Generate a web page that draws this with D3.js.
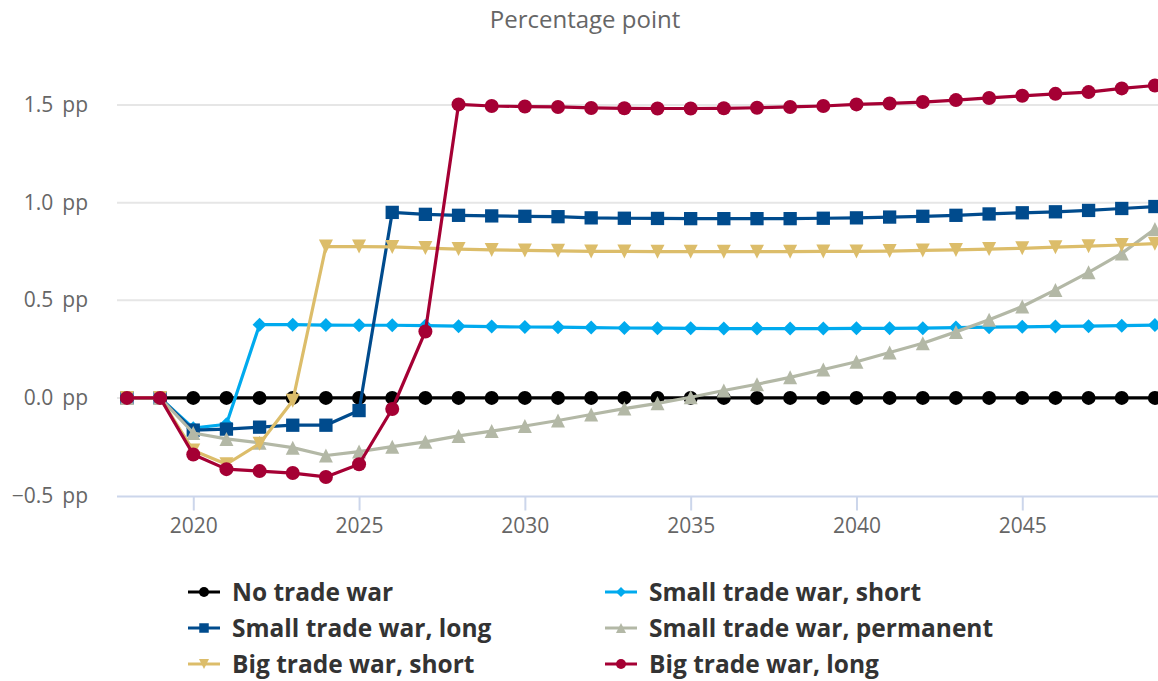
<!doctype html>
<html>
<head>
<meta charset="utf-8">
<script src="https://cdn.jsdelivr.net/npm/d3@7"></script>
<style>
  body{ margin:0; background:#fff; }
  text{ font-family:"Open Sans", sans-serif; }
  .grid line{ stroke:#e6e6e6; stroke-width:2px; }
  .ylab{ fill:#666; font-size:21px; }
  .xaxis path, .xaxis line{ stroke:#ccd6eb; stroke-width:2px; }
  .xaxis text{ fill:#666; font-size:21px; }
  .legend text{ fill:#333; font-size:24.5px; font-weight:700; }
</style>
</head>
<body>
<svg id="chart" width="1158" height="681"></svg>
<script>
// years 2018..2049
var years = d3.range(2018, 2050);
var yTicks = [-0.5, 0, 0.5, 1.0, 1.5];
var xTicks = [2020, 2025, 2030, 2035, 2040, 2045];

var noWar = [0,0,0,0,0,0,0,0,0,0,0,0,0,0,0,0,0,0,0,0,0,0,0,0,0,0,0,0,0,0,0,0];
var smallShort = [0,0,-0.155,-0.135,0.375,0.375,0.373,0.372,0.372,0.37,0.367,0.365,0.363,0.362,0.36,0.358,
  0.357,0.356,0.355,0.355,0.355,0.355,0.356,0.356,0.357,0.36,0.362,0.364,0.366,0.367,0.37,0.373];
var smallLong = [0,0,-0.165,-0.16,-0.15,-0.14,-0.14,-0.065,0.95,0.94,0.935,0.932,0.93,0.928,0.922,0.92,
  0.919,0.918,0.918,0.918,0.918,0.92,0.922,0.926,0.93,0.935,0.942,0.948,0.953,0.96,0.97,0.98];
var smallPerm = [0,0,-0.18,-0.21,-0.23,-0.255,-0.295,-0.275,-0.25,-0.225,-0.195,-0.17,-0.144,-0.116,-0.085,-0.055,
  -0.028,0.003,0.038,0.07,0.105,0.145,0.185,0.232,0.28,0.338,0.4,0.468,0.553,0.643,0.74,0.865];
var bigShort = [0,0,-0.27,-0.34,-0.235,-0.015,0.775,0.775,0.773,0.767,0.762,0.758,0.755,0.753,0.75,0.75,
  0.749,0.749,0.749,0.749,0.749,0.75,0.75,0.752,0.755,0.758,0.762,0.766,0.772,0.777,0.783,0.79];
var bigLong = [0,0,-0.29,-0.365,-0.375,-0.385,-0.405,-0.34,-0.057,0.34,1.503,1.495,1.492,1.49,1.485,1.483,
  1.482,1.482,1.483,1.486,1.49,1.495,1.503,1.508,1.515,1.525,1.536,1.547,1.557,1.566,1.585,1.6];

var seriesNames = ['No trade war','Small trade war, short','Small trade war, long',
  'Small trade war, permanent','Big trade war, short','Big trade war, long'];
var seriesValues = [noWar, smallShort, smallLong, smallPerm, bigShort, bigLong];
var seriesColors = ['#000000','#00aaee','#004b8d','#b3b8a6','#dcbd6a','#a50034'];
var seriesMarkers = ['circle','diamond','square','triangle','triangle-down','circle'];

var svg = d3.select('#chart');
var plotLeft = 117, plotTop = 105, plotBottom = 495.5;
var xScale = d3.scaleLinear().domain([2017.7, 2049.3]).range([plotLeft, plotLeft + 31.6*33.16]);
var yScale = d3.scaleLinear().domain([-0.5, 1.5]).range([plotBottom, plotTop]);

// marker shapes, r = half size
function markerPath(type, r){
  if(type=='circle') return d3.symbol().type(d3.symbolCircle).size(Math.PI*r*r)();
  if(type=='square'){ r = r*0.95; return 'M'+(-r)+','+(-r)+'h'+(2*r)+'v'+(2*r)+'h'+(-2*r)+'Z'; }
  if(type=='diamond') return 'M0,'+(-r)+'L'+r+',0L0,'+r+'L'+(-r)+',0Z';
  if(type=='triangle') return 'M0,'+(-r)+'L'+r+','+r+'L'+(-r)+','+r+'Z';
  if(type=='triangle-down') return 'M'+(-r)+','+(-r)+'L'+r+','+(-r)+'L0,'+r+'Z';
}

// title
svg.append('text').attr('x',585).attr('y',28).attr('text-anchor','middle')
  .style('fill','#666').style('font-size','24px').text('Percentage point');

// horizontal grid
svg.append('g').attr('class','grid').selectAll('line')
  .data(yTicks.filter(function(d){return d>-0.5;})).enter().append('line')
  .attr('x1',plotLeft).attr('x2',1158)
  .attr('y1',function(d){return yScale(d);}).attr('y2',function(d){return yScale(d);});

// y labels
var yl = svg.append('g').selectAll('text').data(yTicks).enter().append('text')
  .attr('class','ylab').attr('text-anchor','end')
  .attr('x',88).attr('y',function(d){return yScale(d)+7;});
yl.append('tspan').text(function(d){ return (d<0?'\u2212':'') + Math.abs(d).toFixed(1); });
yl.append('tspan').attr('dx',9).text('pp');

// x axis
var xAxis = d3.axisBottom(xScale).tickValues(xTicks).tickSize(14).tickPadding(8)
  .tickFormat(d3.format('d'));
var gx = svg.append('g').attr('class','xaxis')
  .attr('transform','translate(0,'+(plotBottom+1)+')').call(xAxis);
gx.select('.domain').attr('d','M'+plotLeft+',0H1158');

// series
var line = d3.line().x(function(d,i){return xScale(years[i]);}).y(function(d){return yScale(d);});
seriesValues.forEach(function(vals, s){
  var g = svg.append('g');
  g.append('path').attr('d',line(vals)).attr('fill','none')
    .attr('stroke',seriesColors[s]).attr('stroke-width',3.2).attr('stroke-linejoin','round');
  g.selectAll('path.pt').data(vals).enter().append('path').attr('class','pt')
    .attr('d',markerPath(seriesMarkers[s],7))
    .attr('transform',function(d,i){return 'translate('+xScale(years[i])+','+yScale(d)+')';})
    .attr('fill',seriesColors[s]);
});

// legend
var legend = svg.append('g').attr('class','legend');
seriesNames.forEach(function(name, s){
  var lx = (s%2==0) ? 188 : 605;
  var ly = 592 + Math.floor(s/2)*36;
  var item = legend.append('g').attr('transform','translate('+lx+','+ly+')');
  item.append('line').attr('x1',0).attr('x2',32).attr('y1',0).attr('y2',0)
    .attr('stroke',seriesColors[s]).attr('stroke-width',3);
  item.append('path').attr('d',markerPath(seriesMarkers[s],5))
    .attr('transform','translate(16,0)').attr('fill',seriesColors[s]);
  item.append('text').attr('x',44).attr('y',9).text(name);
});
</script>
</body>
</html>
